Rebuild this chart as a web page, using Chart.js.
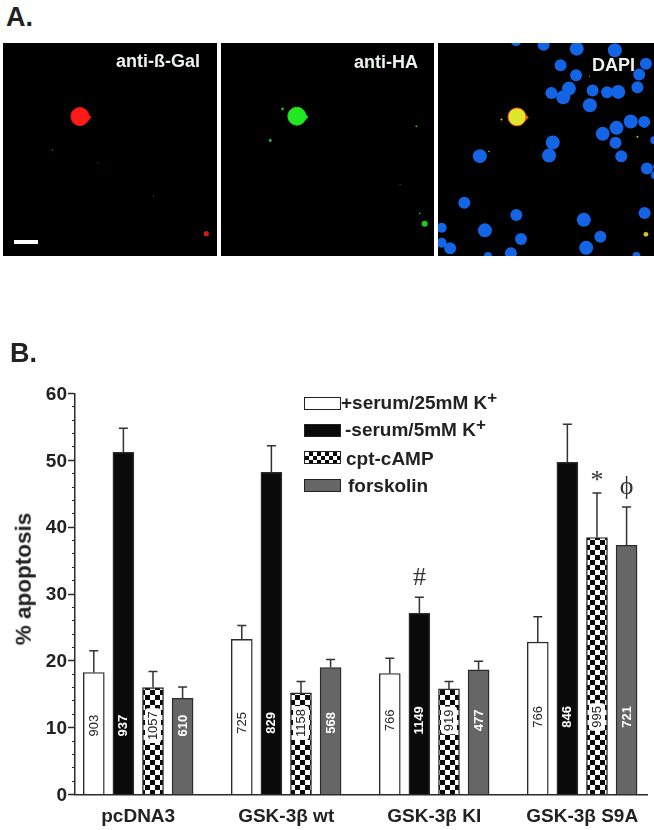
<!DOCTYPE html>
<html lang="en">

<head>
	<title>GSK-3β apoptosis figure</title>
	<meta charset="utf-8">
	<script src="https://cdn.jsdelivr.net/npm/chart.js"></script>
	<style>
		body { margin: 0; background: #fff; font-family: "Liberation Sans", Arial, sans-serif; color: #222; }
		#page { position: relative; width: 654px; height: 830px; overflow: hidden; }
		canvas, .txt, .swatch { position: absolute; }
		.panel { background: #000; filter: blur(0.5px); }
		.txt { font-weight: bold; white-space: nowrap; line-height: 1; }
		.letter { font-size: 27px; }
		.tag { font-size: 18px; color: #eef2ee; }
		.leg { font-size: 19px; }
		.leg sup { font-size: 17px; line-height: 0; vertical-align: 6px; }
		.swatch { width: 35px; height: 11px; border: 1px solid #222; box-sizing: content-box; }
		#ytitle { font-size: 22.5px; transform: translate(-50%, -50%) rotate(-90deg); left: 24px; top: 579px; }
		#scalebar { position: absolute; left: 14px; top: 240px; width: 24px; height: 4px; background: #fff; }
	</style>
</head>

<body>
	<div id="page">
		<div class="txt letter" style="left:6px;top:4px">A.</div>
		<canvas id="gal" class="panel" width="214" height="213" style="left:3px;top:43px"></canvas>
		<canvas id="ha" class="panel" width="213" height="213" style="left:221px;top:43px"></canvas>
		<canvas id="dapi" class="panel" width="216" height="213" style="left:438px;top:43px"></canvas>
		<div id="scalebar"></div>
		<div class="txt tag" style="left:116px;top:52px">anti-ß-Gal</div>
		<div class="txt tag" style="left:354px;top:53px">anti-HA</div>
		<div class="txt tag" style="left:592px;top:56px">DAPI</div>

		<div class="txt letter" style="left:10px;top:340px">B.</div>
		<canvas id="bars" width="654" height="460" style="left:0;top:370px"></canvas>
		<div id="ytitle" class="txt">% apoptosis</div>
		<div id="legend"></div>
	</div>

	<script type="text/javascript">
		// panel B
		const groups = ["pcDNA3", "GSK-3β wt", "GSK-3β KI", "GSK-3β S9A"]
		const treatments = ["+serum/25mM K", "-serum/5mM K", "cpt-cAMP", "forskolin"]

		const serumK25 = [18.25, 23.2, 18.1, 22.8]
		const noSerumK5 = [51.2, 48.2, 27.1, 49.7]
		const cptCamp = [16.0, 15.2, 15.8, 38.45]
		const forskolin = [14.4, 19.0, 18.65, 37.3]

		const serumK25Top = [21.5, 25.3, 20.4, 26.6]
		const noSerumK5Top = [54.8, 52.2, 29.5, 55.4]
		const cptCampTop = [18.4, 16.9, 16.9, 45.1]
		const forskolinTop = [16.1, 20.2, 19.95, 43.0]

		const serumK25N = [903, 725, 766, 766]
		const noSerumK5N = [937, 829, 1149, 846]
		const cptCampN = [1057, 1158, 919, 995]
		const forskolinN = [610, 568, 477, 721]

		const yTicksMajor = [0, 10, 20, 30, 40, 50, 60]

		// panel A, spots (field of 640 x 640)
		const nucleiX = [231, 313, 411, 524, 363, 616, 409, 596, 591, 388, 336, 371, 458, 501, 534, 450, 571, 611, 529, 488, 526, 641, 340, 329, 543, 124, 619, 646, 643, 78, 232, 432, 612, 139, 246, 481, 11, 11, 36, 439, 216, 148, 588]
		const nucleiY = [-5, 5, 17, 22, 67, 62, 97, 95, 133, 137, 150, 163, 143, 148, 147, 187, 236, 237, 255, 273, 300, 292, 299, 338, 340, 340, 377, 370, 397, 480, 517, 531, 511, 563, 589, 582, 555, 600, 617, 615, 632, 640, 640]
		const nucleiR = [5, 6, 7, 7, 6, 6, 6, 6, 6, 7, 6, 7, 6, 6, 7, 7, 7, 6, 7, 7, 6, 4, 7, 7, 6, 7, 6, 3, 4, 6, 6, 7, 6, 7, 6, 6, 5, 5, 6, 7, 6, 4, 4]

		const galSpotX = [608, 148, 285, 450]
		const galSpotY = [573, 322, 360, 460]
		const galSpotR = [2.6, 0.8, 0.6, 0.6]
		const haSpotX = [612, 148, 185, 587, 443, 597, 538]
		const haSpotY = [543, 293, 198, 250, 67, 512, 425]
		const haSpotR = [3, 1.4, 1.3, 1, 0.8, 0.8, 0.5]
		const dapiSpotX = [616, 188, 591, 151, 449]
		const dapiSpotY = [575, 230, 282, 326, 100]
		const dapiSpotR = [2.4, 1, 1, 0.8, 0.5]

		function checker(cell) {
			let c = document.createElement('canvas')
			c.width = c.height = cell * 2
			let g = c.getContext('2d')
			g.fillStyle = '#fff'
			g.fillRect(0, 0, cell * 2, cell * 2)
			g.fillStyle = '#0a0a0a'
			g.fillRect(0, 0, cell, cell)
			g.fillRect(cell, cell, cell, cell)
			return document.getElementById('bars').getContext('2d').createPattern(c, 'repeat')
		}

		const ink = '#2a2a2a'
		const series = [
			{ values: serumK25, tops: serumK25Top, counts: serumK25N, fill: '#fff', text: '#222' },
			{ values: noSerumK5, tops: noSerumK5Top, counts: noSerumK5N, fill: '#0a0a0a', text: '#fff' },
			{ values: cptCamp, tops: cptCampTop, counts: cptCampN, fill: checker(5), text: '#222', blob: true },
			{ values: forskolin, tops: forskolinTop, counts: forskolinN, fill: '#666', text: '#fff' }
		]
		const slotsPerGroup = 5
		const countHeight = [10.3, 10.7, 11.1, 11.6]
		const significance = [
			{ group: 2, series: 1, mark: '#', gap: 19 },
			{ group: 3, series: 2, mark: '*', gap: 12 },
			{ group: 3, series: 3, mark: 'ϕ', gap: 20 }
		]

		// error bars, cell counts and significance marks
		const annotate = {
			id: 'annotate',
			afterDatasetsDraw(chart) {
				let ctx = chart.ctx
				let y = chart.scales.y
				ctx.save()
				series.forEach((s, si) => {
					let bars = chart.getDatasetMeta(si).data
					bars.forEach((bar, gi) => {
						let top = y.getPixelForValue(s.tops[gi])
						ctx.strokeStyle = '#333'
						ctx.lineWidth = 1.5
						ctx.beginPath()
						ctx.moveTo(bar.x, bar.y)
						ctx.lineTo(bar.x, top)
						ctx.moveTo(bar.x - 4.5, top)
						ctx.lineTo(bar.x + 4.5, top)
						ctx.stroke()

						let label = String(s.counts[gi])
						let cy = y.getPixelForValue(countHeight[gi])
						ctx.save()
						ctx.translate(bar.x, cy)
						ctx.rotate(-Math.PI / 2)
						ctx.font = (s.text === '#fff' ? 'bold ' : '') + '13px "Liberation Sans"'
						ctx.textAlign = 'center'
						ctx.textBaseline = 'middle'
						if (s.blob) {
							let w = ctx.measureText(label).width + 6
							ctx.fillStyle = '#fff'
							ctx.beginPath()
							ctx.roundRect(-w / 2, -8, w, 16, 3)
							ctx.fill()
						}
						ctx.fillStyle = s.text
						ctx.fillText(label, 0, 0.5)
						ctx.restore()
					})
				})
				significance.forEach(m => {
					let bar = chart.getDatasetMeta(m.series).data[m.group]
					ctx.font = '26px "Liberation Serif"'
					ctx.fillStyle = '#333'
					ctx.textAlign = 'center'
					ctx.textBaseline = 'middle'
					ctx.fillText(m.mark, bar.x, y.getPixelForValue(series[m.series].tops[m.group]) - m.gap)
				})
				ctx.restore()
			}
		}

		new Chart(document.getElementById('bars'), {
			type: 'bar',
			data: {
				datasets: series.map((s, si) => ({
					label: treatments[si],
					data: s.values.map((v, gi) => ({ x: gi * slotsPerGroup + si, y: v })),
					backgroundColor: s.fill,
					borderColor: ink,
					borderWidth: 1.4,
					barThickness: 21
				}))
			},
			options: {
				responsive: false,
				animation: false,
				layout: { padding: { top: 23.5, right: 7 } },
				plugins: { legend: { display: false }, tooltip: { enabled: false } },
				datasets: { bar: { grouped: false } },
				scales: {
					x: {
						type: 'linear',
						offset: false,
						min: -0.635,
						max: 18.69,
						grid: { display: false, drawTicks: false },
						border: { color: ink, width: 1.5 },
						afterBuildTicks: s => { s.ticks = groups.map((g, i) => ({ value: i * slotsPerGroup + 1.5 })) },
						afterFit: s => { s.height = 35.5 },
						ticks: {
							autoSkip: false,
							maxRotation: 0,
							padding: 11,
							color: '#222',
							font: { family: 'Liberation Sans', size: 19, weight: 'bold' },
							callback: v => groups[(v - 1.5) / slotsPerGroup]
						}
					},
					y: {
						min: 0,
						max: 60,
						weight: 2,
						afterFit: s => { s.width = 75 },
						afterBuildTicks: s => { s.ticks = yTicksMajor.map(v => ({ value: v })) },
						grid: { drawOnChartArea: false, tickLength: 7, tickColor: ink, tickWidth: 1.5 },
						border: { color: ink, width: 1.5 },
						ticks: {
							padding: 1,
							labelOffset: 1,
							color: '#222',
							font: { family: 'Liberation Sans', size: 19, weight: 'bold' }
						}
					},
					yMinor: {
						position: 'left',
						min: 0,
						max: 60,
						weight: 1,
						afterFit: s => { s.width = 0 },
						grid: { drawOnChartArea: false, tickLength: 3, tickColor: ink, tickWidth: 1 },
						border: { display: false },
						ticks: { stepSize: 2, autoSkip: false, display: true, padding: 0, callback: () => '', font: { size: 1 } }
					}
				}
			},
			plugins: [annotate]
		})

		// legend
		const legendRows = [
			{ top: 397, textTop: 393, textLeft: 341, sup: true, css: 'background:#fff' },
			{ top: 424, textTop: 420, textLeft: 345, sup: true, css: 'background:#0a0a0a' },
			{ top: 451, textTop: 449, textLeft: 346, css: 'background:repeating-conic-gradient(#0a0a0a 0 25%, #fff 0 50%) 0 0/8px 8px' },
			{ top: 479, textTop: 476, textLeft: 348, css: 'background:#666' }
		]
		let legend = document.getElementById('legend')
		legendRows.forEach((r, i) => {
			let sw = document.createElement('div')
			sw.className = 'swatch'
			sw.style.cssText = `left:304px;top:${r.top}px;${r.css}`
			legend.appendChild(sw)
			let t = document.createElement('div')
			t.className = 'txt leg'
			t.style.cssText = `left:${r.textLeft}px;top:${r.textTop}px`
			t.innerHTML = treatments[i] + (r.sup ? '<sup>+</sup>' : '')
			legend.appendChild(t)
		})

		// micrographs
		function spots(xs, ys, rs) {
			return xs.map((x, i) => ({ x: x, y: ys[i], r: rs[i] }))
		}

		function micrograph(id, datasets) {
			new Chart(document.getElementById(id), {
				type: 'bubble',
				data: { datasets: datasets },
				options: {
					responsive: false,
					animation: false,
					layout: { autoPadding: false, padding: 0 },
					plugins: { legend: { display: false }, tooltip: { enabled: false } },
					scales: {
						x: { display: false, min: 0, max: 640 },
						y: { display: false, min: 0, max: 640, reverse: true }
					}
				}
			})
		}

		// first dataset is painted last, so the cell body comes before its tip
		function cell(cx, cy, fill, rim) {
			return [
				{ data: [{ x: cx, y: cy, r: 9 }], backgroundColor: fill, borderColor: rim, borderWidth: 1 },
				{ data: [{ x: cx + 17, y: cy + 2, r: 6 }], pointStyle: 'rectRot', backgroundColor: rim, borderWidth: 0 }
			]
		}

		micrograph('gal', [
			...cell(230, 221, '#ff1a1a', '#f01818'),
			{ data: spots(galSpotX, galSpotY, galSpotR), backgroundColor: '#d01818', borderWidth: 0 }
		])
		micrograph('ha', [
			...cell(228, 220, '#22e822', '#22d822'),
			{ data: spots(haSpotX, haSpotY, haSpotR), backgroundColor: '#1cc81c', borderWidth: 0 }
		])
		micrograph('dapi', [
			...cell(234, 222, '#dfe62e', '#ee5a14'),
			{ data: spots(dapiSpotX, dapiSpotY, dapiSpotR), backgroundColor: '#e0c020', borderWidth: 0 },
			{ data: spots(nucleiX, nucleiY, nucleiR), backgroundColor: '#1464e6', borderWidth: 0 }
		])
	</script>
</body>

</html>
